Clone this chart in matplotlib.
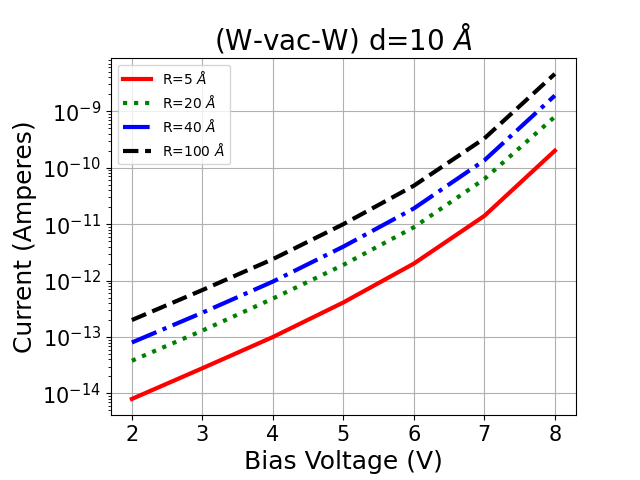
import matplotlib
matplotlib.use("Agg")
import matplotlib.pyplot as plt
import numpy as np

voltage = [2, 3, 4, 5, 6, 7, 8]
current_r5 = [8.0e-15, 2.8e-14, 1.0e-13, 4.1e-13, 2.0e-12, 1.4e-11, 2.0e-10]
current_r20 = [3.8e-14, 1.3e-13, 4.8e-13, 1.9e-12, 8.8e-12, 6.3e-11, 8.0e-10]
current_r40 = [8.0e-14, 2.7e-13, 9.6e-13, 4.0e-12, 1.9e-11, 1.35e-10, 1.9e-9]
current_r100 = [2.0e-13, 6.8e-13, 2.4e-12, 1.0e-11, 4.8e-11, 3.3e-10, 4.6e-9]
labels = [r'R=5 $\AA$', r'R=20 $\AA$', r'R=40 $\AA$', r'R=100 $\AA$']

fig = plt.figure(figsize=(6.4, 4.8), dpi=100)
ax = fig.add_subplot(111)
fig.subplots_adjust(left=0.173, bottom=0.135, right=0.9, top=0.88)

ax.plot(voltage, current_r5, color='red', linestyle='-', linewidth=3, label=labels[0])
ax.plot(voltage, current_r20, color='green', linestyle=':', linewidth=3, label=labels[1])
ax.plot(voltage, current_r40, color='blue', linestyle='-.', linewidth=3, label=labels[2])
ax.plot(voltage, current_r100, color='black', linestyle='--', linewidth=3, label=labels[3])

ax.set_yscale('log')
ax.grid(True, which='major')
ax.set_xlabel('Bias Voltage (V)', fontsize=18)
ax.set_ylabel('Current (Amperes)', fontsize=18)
ax.set_title(r'(W-vac-W) d=10 $\AA$', fontsize=20)
ax.tick_params(axis='both', which='major', labelsize=15)
ax.legend(loc='upper left', fontsize=10)

fig.savefig('out.png', dpi=100)
